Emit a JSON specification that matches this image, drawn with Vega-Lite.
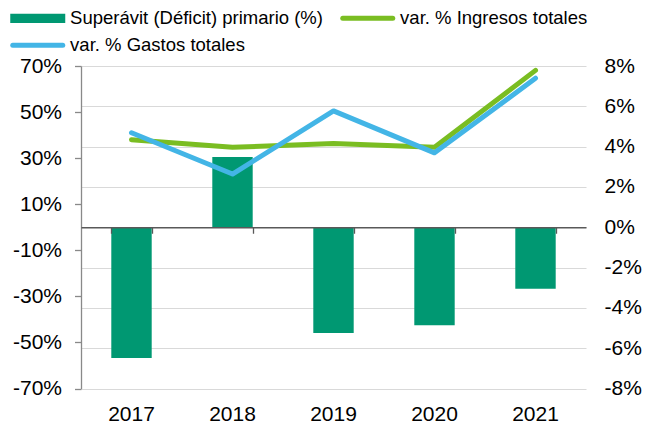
{
  "$schema": "https://vega.github.io/schema/vega-lite/v6.json",
  "width": 505,
  "height": 322.5,
  "autosize": {"type": "none"},
  "padding": {"left": 81, "top": 66, "right": 59, "bottom": 35.5},
  "background": "white",
  "config": {
    "font": "Liberation Sans",
    "view": {"stroke": null},
    "axis": {"labelFont": "Liberation Sans", "labelFontSize": 21, "labelColor": "#000000", "title": null}
  },
  "data": {
    "values": [
      {"year": "2017", "serie": "Superávit (Déficit) primario (%)", "kind": "bar", "value": -6.49},
      {"year": "2018", "serie": "Superávit (Déficit) primario (%)", "kind": "bar", "value": 3.48},
      {"year": "2019", "serie": "Superávit (Déficit) primario (%)", "kind": "bar", "value": -5.25},
      {"year": "2020", "serie": "Superávit (Déficit) primario (%)", "kind": "bar", "value": -4.86},
      {"year": "2021", "serie": "Superávit (Déficit) primario (%)", "kind": "bar", "value": -3.05},
      {"year": "2017", "serie": "var. % Ingresos totales", "kind": "line", "value": 38.0},
      {"year": "2018", "serie": "var. % Ingresos totales", "kind": "line", "value": 34.7},
      {"year": "2019", "serie": "var. % Ingresos totales", "kind": "line", "value": 36.4},
      {"year": "2020", "serie": "var. % Ingresos totales", "kind": "line", "value": 34.7},
      {"year": "2021", "serie": "var. % Ingresos totales", "kind": "line", "value": 68.1},
      {"year": "2017", "serie": "var. % Gastos totales", "kind": "line", "value": 41.0},
      {"year": "2018", "serie": "var. % Gastos totales", "kind": "line", "value": 23.1},
      {"year": "2019", "serie": "var. % Gastos totales", "kind": "line", "value": 50.5},
      {"year": "2020", "serie": "var. % Gastos totales", "kind": "line", "value": 32.3},
      {"year": "2021", "serie": "var. % Gastos totales", "kind": "line", "value": 64.7}
    ]
  },
  "layer": [
    {
      "transform": [{"filter": {"field": "kind", "equal": "bar"}}],
      "mark": {"type": "bar"},
      "encoding": {
        "x": {
          "field": "year", "type": "ordinal",
          "scale": {"paddingInner": 0.6, "paddingOuter": 0.3},
          "axis": {"orient": "bottom", "domain": false, "ticks": false, "labelAngle": 0, "labelPadding": 15, "grid": false}
        },
        "y": {
          "field": "value", "type": "quantitative",
          "scale": {"domain": [-8, 8], "nice": false},
          "axis": {
            "orient": "right", "values": [-8, -6, -4, -2, 0, 2, 4, 6, 8],
            "labelExpr": "datum.value + '%'", "domain": false, "ticks": false,
            "labelPadding": 18, "grid": true, "gridColor": "#d9d9d9", "gridWidth": 1.2
          }
        },
        "color": {
          "field": "serie", "type": "nominal",
          "scale": {
            "domain": ["Superávit (Déficit) primario (%)", "var. % Ingresos totales", "var. % Gastos totales"],
            "range": ["#009872", "#7ABD22", "#43B5E6"]
          },
          "legend": {
            "orient": "none", "legendX": -70, "legendY": -57.5,
            "columns": 2, "direction": "horizontal", "title": null,
            "labelFont": "Liberation Sans", "labelFontSize": 18.5, "labelColor": "#000000",
            "labelLimit": 500, "symbolSize": 400, "labelOffset": 40.6,
            "columnPadding": 9, "rowPadding": 6.5, "padding": 0,
            "encode": {
              "symbols": {
                "update": {
                  "shape": {"signal": "datum.value === 'Superávit (Déficit) primario (%)' ? 'M-1,-0.465H4.5V0.465H-1Z' : 'M-0.75,0H4.25'"},
                  "fill": {"signal": "datum.value === 'Superávit (Déficit) primario (%)' ? scale('color', datum.value) : 'transparent'"},
                  "stroke": {"signal": "datum.value === 'Superávit (Déficit) primario (%)' ? 'transparent' : scale('color', datum.value)"},
                  "strokeWidth": {"signal": "datum.value === 'Superávit (Déficit) primario (%)' ? 0 : 5"},
                  "strokeCap": {"value": "round"},
                  "opacity": {"value": 1},
                  "fillOpacity": {"value": 1},
                  "strokeOpacity": {"value": 1}
                }
              }
            }
          }
        }
      }
    },
    {
      "transform": [{"filter": {"field": "kind", "equal": "line"}}],
      "mark": {"type": "line", "strokeWidth": 5, "strokeCap": "round", "strokeJoin": "round"},
      "encoding": {
        "x": {
          "field": "year", "type": "ordinal",
          "axis": {
            "orient": "bottom", "offset": -161.25, "labels": false, "domain": true,
            "domainColor": "#595959", "domainWidth": 1.3, "ticks": true, "tickColor": "#595959",
            "tickWidth": 1.3, "tickSize": 6, "tickBand": "extent", "grid": false, "zindex": 2
          }
        },
        "y": {
          "field": "value", "type": "quantitative",
          "scale": {"domain": [-70, 70], "nice": false},
          "axis": {
            "orient": "left", "values": [-70, -50, -30, -10, 10, 30, 50, 70],
            "labelExpr": "datum.value + '%'", "domain": true, "domainColor": "#898989",
            "domainWidth": 1.3, "ticks": true, "tickColor": "#898989", "tickWidth": 1.3,
            "tickSize": 6.5, "labelPadding": 13, "grid": false
          }
        },
        "color": {"field": "serie", "type": "nominal"}
      }
    }
  ],
  "resolve": {"scale": {"y": "independent"}, "axis": {"x": "independent"}}
}
